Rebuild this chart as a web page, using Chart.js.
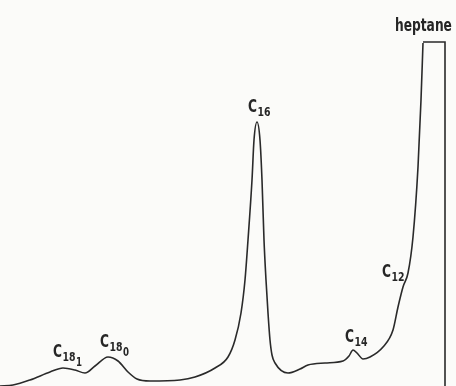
<!DOCTYPE html>
<html>
<head>
<meta charset="utf-8">
<script src="https://cdn.jsdelivr.net/npm/chart.js@4"></script>
<style>
  html, body { margin: 0; padding: 0; background: #fbfbf9; }
  #chrom { display: block; }
</style>
</head>
<body>
<canvas id="chrom" width="456" height="386"></canvas>
<script>
// retention (arbitrary units) and detector signal
const retention = [0, 13, 30, 50, 63, 75, 85, 95, 108, 118, 128, 137, 150, 180,
  195, 215, 228, 235, 241, 245, 248, 252, 254, 257, 260, 262, 264, 266, 268, 270,
  272, 275, 288, 300, 308, 325, 343, 349, 353, 357, 363, 370, 383, 393, 398, 403,
  408, 413, 418, 421, 423];
const signal = [0, 1, 6, 14, 18, 16, 13, 20, 29, 25, 14, 7, 5, 6,
  9, 18, 29, 46, 73, 106, 146, 206, 246, 264, 246, 206, 146, 106, 73, 46,
  31, 23, 13, 17, 21, 23, 25, 30, 36, 33, 27, 29, 39, 56, 79, 99,
  113, 149, 219, 286, 343];

// heptane peak goes off scale (clipped flat top)
const heptaneX = [423, 445, 445];
const heptaneY = [344, 344, 0];

// peak labels: main text, subscript, sub-subscript, anchor position
const peakNames = ['C', 'C', 'C', 'C', 'C', 'heptane'];
const peakSubs = ['18', '18', '16', '14', '12', ''];
const peakSubSubs = ['1', '0', '', '', '', ''];
const peakAtX = [53, 100, 248, 345, 382, 395];
const peakAtY = [29, 39, 274, 44, 109, 355];

const toPts = (xs, ys) => xs.map((x, i) => ({ x: x, y: ys[i] }));
const FONT = '"Liberation Sans Narrow", "DejaVu Sans Condensed", "DejaVu Sans", sans-serif';
const SQUEEZE = 0.8; // lettering on the plot is tall and narrow

// draws condensed text, returns its advance width in pixels
function tallText(c, txt, x, y) {
  c.save();
  c.translate(x, y);
  c.scale(SQUEEZE, 1);
  c.fillText(txt, 0, 0);
  c.restore();
  return c.measureText(txt).width * SQUEEZE;
}

const peakLabels = {
  id: 'peakLabels',
  afterDatasetsDraw(chart) {
    const c = chart.ctx;
    const xs = chart.scales.x, ys = chart.scales.y;
    c.save();
    c.fillStyle = '#262626';
    c.textBaseline = 'alphabetic';
    c.textAlign = 'left';
    peakNames.forEach((name, i) => {
      let px = xs.getPixelForValue(peakAtX[i]);
      const py = ys.getPixelForValue(peakAtY[i]);
      c.font = 'bold 17px ' + FONT;
      px += tallText(c, name, px, py) + 0.5;
      if (peakSubs[i]) {
        c.font = 'bold 13px ' + FONT;
        px += tallText(c, peakSubs[i], px, py + 4) + 0.5;
      }
      if (peakSubSubs[i]) {
        c.font = 'bold 12px ' + FONT;
        tallText(c, peakSubSubs[i], px, py + 9);
      }
    });
    c.restore();
  }
};

new Chart(document.getElementById('chrom'), {
  type: 'line',
  data: {
    datasets: [{
      data: toPts(retention, signal),
      borderColor: '#2a2a2a',
      borderWidth: 1.6,
      pointRadius: 0,
      fill: false,
      cubicInterpolationMode: 'monotone'
    }, {
      data: toPts(heptaneX, heptaneY),
      borderColor: '#2a2a2a',
      borderWidth: 1.6,
      pointRadius: 0,
      fill: false,
      tension: 0
    }]
  },
  options: {
    responsive: false,
    animation: false,
    layout: { padding: 0 },
    plugins: { legend: { display: false }, tooltip: { enabled: false } },
    scales: {
      x: { type: 'linear', min: 0, max: 456, display: false },
      y: { type: 'linear', min: 0, max: 386, display: false }
    }
  },
  plugins: [peakLabels]
});
</script>
</body>
</html>
